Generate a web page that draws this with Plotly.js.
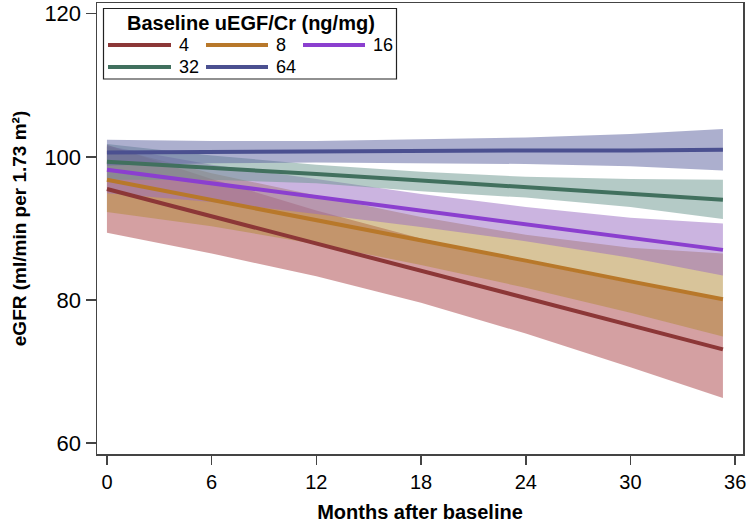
<!DOCTYPE html>
<html>
<head>
<meta charset="utf-8">
<script src="https://cdn.plot.ly/plotly-3.0.1.min.js"></script>
<style>html,body{margin:0;padding:0;background:#fff;}#chart{width:747px;height:523px;}</style>
</head>
<body>
<div id="chart"></div>
<script>
// ---- data ----
var months = [0, 6, 12, 18, 24, 30, 35.3];
var groupLabels = ["4", "8", "16", "32", "64"];
var legendTitle = "Baseline uEGF/Cr (ng/mg)";

var fit4   = [95.5, 91.7, 87.9, 84.1, 80.3, 76.5, 73.1];
var upper4 = [101.7, 96.9, 92.5, 88.6, 85.3, 82.4, 80.1];
var lower4 = [89.4, 86.5, 83.3, 79.6, 75.3, 70.6, 66.3];

var fit8   = [96.8, 94.0, 91.1, 88.3, 85.5, 82.6, 80.1];
var upper8 = [101.4, 97.7, 94.6, 91.6, 89.1, 87.3, 86.5];
var lower8 = [92.3, 90.3, 87.8, 84.9, 81.7, 78.2, 74.9];

var fit16   = [98.2, 96.3, 94.4, 92.5, 90.6, 88.7, 87.0];
var upper16 = [101.5, 98.9, 96.9, 94.8, 93.0, 91.5, 90.7];
var lower16 = [94.9, 93.7, 92.0, 90.2, 88.2, 85.9, 83.4];

var fit32   = [99.3, 98.5, 97.6, 96.7, 95.8, 94.9, 94.0];
var upper32 = [101.8, 100.2, 98.9, 97.9, 97.2, 96.9, 96.8];
var lower32 = [96.8, 96.8, 96.3, 95.2, 94.3, 93.0, 91.3];

var fit64   = [100.6, 100.7, 100.7, 100.8, 100.9, 100.9, 101.0];
var upper64 = [102.4, 102.2, 102.2, 102.4, 102.7, 103.2, 103.9];
var lower64 = [98.8, 99.1, 99.2, 99.1, 99.0, 98.7, 98.1];

var xTickStep = 6;
var yTickStep = 20;

// ---- styles ----
var fits = [fit4, fit8, fit16, fit32, fit64];
var uppers = [upper4, upper8, upper16, upper32, upper64];
var lowers = [lower4, lower8, lower16, lower32, lower64];
var lineColors = ["rgb(140,55,55)", "rgb(184,120,42)", "rgb(139,63,207)", "rgb(65,112,94)", "rgb(75,80,144)"];
var fillColors = ["rgba(169,65,69,0.5)", "rgba(177,137,53,0.5)", "rgba(151,105,193,0.5)", "rgba(105,149,141,0.5)", "rgba(89,95,157,0.5)"];

var traces = [];
for (var i = 0; i < fits.length; i++) {
  traces.push({x: months, y: uppers[i], type: "scatter", mode: "lines", line: {width: 0, color: fillColors[i]}, hoverinfo: "skip", showlegend: false});
  traces.push({x: months, y: lowers[i], type: "scatter", mode: "lines", line: {width: 0, color: fillColors[i]}, fill: "tonexty", fillcolor: fillColors[i], hoverinfo: "skip", showlegend: false});
}
for (var j = 0; j < fits.length; j++) {
  traces.push({x: months, y: fits[j], type: "scatter", mode: "lines", name: groupLabels[j], line: {width: 4, color: lineColors[j]}, showlegend: false});
}

// plot area in pixels
var L = 97, R = 743, T = 3, B = 454;
function px(x) { return (x - L) / (R - L); }
function py(y) { return (B - y) / (B - T); }

var font = "Liberation Sans, Arial, sans-serif";
var shapes = [{type: "rect", xref: "paper", yref: "paper", x0: px(103.5), x1: px(396.5), y0: py(79), y1: py(8.5), line: {color: "#222", width: 1.2}, fillcolor: "white"}];
var annotations = [{xref: "paper", yref: "paper", x: px(250.5), y: py(23), text: "<b>" + legendTitle + "</b>", showarrow: false, xanchor: "center", yanchor: "middle", font: {family: font, size: 20, color: "#000"}}];
var legPos = [[108, 171, 45], [206, 268, 45], [303, 365, 45], [108, 171, 67], [206, 268, 67]];
for (var k = 0; k < groupLabels.length; k++) {
  var p = legPos[k];
  shapes.push({type: "line", xref: "paper", yref: "paper", x0: px(p[0]), x1: px(p[1]), y0: py(p[2]), y1: py(p[2]), line: {color: lineColors[k], width: 4}});
  annotations.push({xref: "paper", yref: "paper", x: px(p[1] + 6), y: py(p[2]), text: groupLabels[k], showarrow: false, xanchor: "left", yanchor: "middle", font: {family: font, size: 18, color: "#000"}});
}

var layout = {
  width: 747, height: 523,
  margin: {l: L, r: 747 - R, t: T, b: 523 - B},
  paper_bgcolor: "white", plot_bgcolor: "white",
  font: {family: font, color: "#000"},
  showlegend: false,
  xaxis: {
    range: [-0.57, 36.45], tickmode: "linear", tick0: 0, dtick: xTickStep, ticks: "outside", ticklen: 9, tickwidth: 1.5, tickcolor: "#444",
    showline: true, linecolor: "#444", linewidth: 1.5, mirror: true, showgrid: false, zeroline: false,
    tickfont: {size: 20, family: font, color: "#000"},
    title: {text: "<b>Months after baseline</b>", font: {size: 20, family: font, color: "#000"}, standoff: 16}
  },
  yaxis: {
    range: [58.47, 121.5], tickmode: "linear", tick0: 0, dtick: yTickStep, ticks: "outside", ticklen: 10, tickwidth: 1.5, tickcolor: "#444",
    showline: true, linecolor: "#444", linewidth: 1.5, mirror: true, showgrid: false, zeroline: false,
    tickfont: {size: 22, family: font, color: "#000"},
    title: {text: "<b>eGFR (ml/min per 1.73 m²)</b>", font: {size: 19, family: font, color: "#000"}, standoff: 12}
  },
  shapes: shapes,
  annotations: annotations
};

Plotly.newPlot("chart", traces, layout, {displayModeBar: false, staticPlot: true});
</script>
</body>
</html>
